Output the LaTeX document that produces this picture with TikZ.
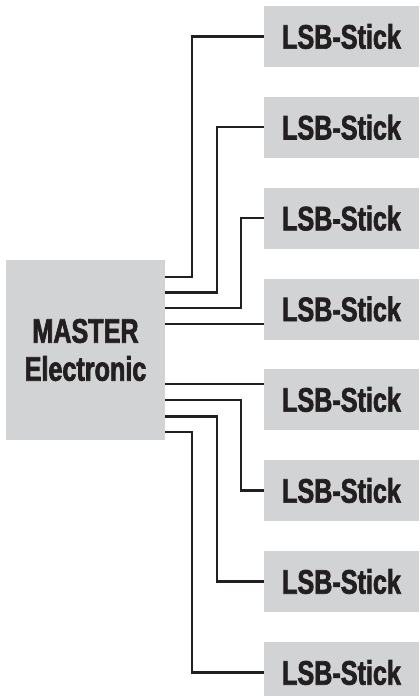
\documentclass[tikz,border=0pt]{standalone}
\usepackage{fontspec}
\newfontfamily\condfont[FakeStretch=0.74,FakeBold=2,UprightFont={* Bold}]{Liberation Sans}
\definecolor{boxgray}{HTML}{D1D3D4}
\definecolor{ink}{HTML}{231F20}
\begin{document}
\begin{tikzpicture}[x=1bp,y=-1bp,
  wire/.style={draw=ink,line width=2.2bp},
  master/.style={fill=boxgray,draw=none,minimum width=159bp,minimum height=180bp,inner sep=0pt,
    align=center,text=ink,font=\condfont\fontsize{34bp}{38bp}\selectfont},
  stickbox/.style={fill=boxgray,draw=none,minimum width=155bp,minimum height=61bp,inner sep=0pt,
    text=ink,font=\condfont\fontsize{34bp}{38bp}\selectfont}]
\useasboundingbox (0,0) rectangle (419,696);
\node[master] (m) at (85.5,350) {MASTER\\[0pt]Electronic};
\node[stickbox] (s1) at (341.5,36.5) {LSB-Stick};
\node[stickbox] (s2) at (341.5,127.3) {LSB-Stick};
\node[stickbox] (s3) at (341.5,218.2) {LSB-Stick};
\node[stickbox] (s4) at (341.5,309) {LSB-Stick};
\node[stickbox] (s5) at (341.5,399.5) {LSB-Stick};
\node[stickbox] (s6) at (341.5,490.5) {LSB-Stick};
\node[stickbox] (s7) at (341.5,581.5) {LSB-Stick};
\node[stickbox] (s8) at (341.5,672.5) {LSB-Stick};
\draw[wire] (m.east |- 0,277) -| (192,0 |- s1.west) -- (s1.west);
\draw[wire] (m.east |- 0,292.5) -| (217,0 |- s2.west) -- (s2.west);
\draw[wire] (m.east |- 0,308) -| (241,0 |- s3.west) -- (s3.west);
\draw[wire] (m.east |- 0,324) -- (s4.west |- 0,324);
\draw[wire] (m.east |- 0,384) -- (s5.west |- 0,384);
\draw[wire] (m.east |- 0,400) -| (241,0 |- s6.west) -- (s6.west);
\draw[wire] (m.east |- 0,416.5) -| (217,0 |- s7.west) -- (s7.west);
\draw[wire] (m.east |- 0,432) -| (192,0 |- s8.west) -- (s8.west);
\end{tikzpicture}
\end{document}
